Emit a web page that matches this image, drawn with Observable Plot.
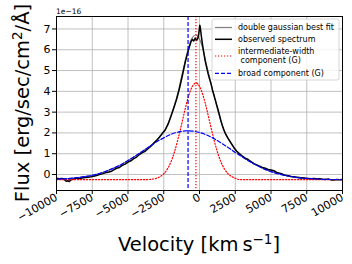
<!DOCTYPE html>
<html><head><meta charset="utf-8">
<script src="https://cdn.jsdelivr.net/npm/d3@7"></script>
<script src="https://cdn.jsdelivr.net/npm/@observablehq/plot@0.6"></script>
<style>
body{margin:0;background:#fff}
#chart{position:relative;width:352px;height:264px}
</style>
</head><body><div id="chart"></div>
<script>
// Observed spectrum (flux in units of 1e-16)
const obsVelocity = [-10000,-9800,-9600,-9400,-9300,-9200,-9100,-9000,-8800,-8600,-8400,-8200,-8000,-7800,-7600,-7400,-7200,-7000,-6800,-6600,-6400,-6200,-6000,-5800,-5600,-5400,-5200,-5000,-4800,-4600,-4400,-4200,-4000,-3800,-3600,-3400,-3200,-3000,-2800,-2600,-2400,-2200,-2000,-1800,-1600,-1400,-1200,-1000,-850,-700,-600,-500,-400,-300,-200,-120,-50,20,60,120,200,300,400,500,600,700,800,900,1000,1100,1200,1300,1400,1500,1600,1700,1800,2000,2200,2400,2600,2800,3000,3200,3400,3600,3800,4000,4200,4400,4600,4800,5000,5200,5400,5600,5800,6000,6200,6400,6600,6800,7000,7200,7400,7600,7800,8000,8200,8400,8600,8800,9000,9200,9400,9600,9800,10000];
const obsFlux = [-0.18,-0.20,-0.19,-0.27,-0.33,-0.30,-0.34,-0.26,-0.22,-0.17,-0.19,-0.17,-0.15,-0.13,-0.11,-0.08,-0.05,0.00,0.03,0.08,0.11,0.14,0.22,0.30,0.34,0.44,0.50,0.60,0.66,0.76,0.84,0.96,1.05,1.12,1.24,1.36,1.50,1.64,1.80,1.98,2.14,2.42,2.80,3.20,3.62,4.15,4.75,5.40,5.80,6.15,6.38,6.50,6.42,6.56,6.45,6.55,6.80,7.18,7.05,6.70,6.30,5.85,5.45,5.15,4.85,4.60,4.38,4.08,3.85,3.60,3.35,3.10,2.85,2.58,2.35,2.15,1.98,1.74,1.52,1.30,1.12,1.00,0.88,0.78,0.72,0.62,0.52,0.46,0.40,0.34,0.30,0.24,0.22,0.18,0.10,0.06,0.02,-0.04,-0.06,-0.10,-0.11,-0.13,-0.15,-0.16,-0.18,-0.19,-0.20,-0.19,-0.22,-0.21,-0.23,-0.24,-0.22,-0.26,-0.27,-0.24,-0.25,-0.24];

// Double gaussian best fit
const fitVelocity = [-10000,-9500,-9000,-8500,-8000,-7500,-7000,-6500,-6000,-5500,-5000,-4500,-4000,-3500,-3250,-3000,-2750,-2500,-2250,-2000,-1750,-1500,-1250,-1000,-750,-500,-250,0,250,500,750,1000,1250,1500,1750,2000,2250,2500,2750,3000,3500,4000,4500,5000,5500,6000,6500,7000,7500,8000,8500,9000,9500,10000];
const fitFlux = [-0.22,-0.21,-0.185,-0.15,-0.10,-0.04,0.05,0.165,0.305,0.47,0.67,0.88,1.11,1.35,1.49,1.64,1.82,2.04,2.36,2.78,3.33,3.95,4.72,5.45,6.15,6.58,6.71,6.51,6.02,5.25,4.55,3.82,3.20,2.55,2.08,1.72,1.45,1.20,1.03,0.88,0.65,0.45,0.28,0.15,0.04,-0.05,-0.11,-0.16,-0.19,-0.21,-0.23,-0.24,-0.24,-0.245];

// Intermediate-width component (G)
const interVelocity = [-10000,-6000,-4000,-3500,-3000,-2750,-2500,-2250,-2000,-1750,-1500,-1250,-1000,-750,-500,-250,0,250,500,750,1000,1250,1500,1750,2000,2250,2500,2750,3000,4000,6000,10000];
const interFlux = [-0.25,-0.25,-0.25,-0.24,-0.18,-0.10,0.03,0.26,0.60,1.09,1.71,2.42,3.16,3.80,4.24,4.40,4.24,3.80,3.16,2.42,1.71,1.09,0.60,0.26,0.03,-0.10,-0.18,-0.24,-0.25,-0.25,-0.25,-0.25];

// Broad component (G)
const broadVelocity = [-10000,-9500,-9000,-8500,-8000,-7500,-7000,-6500,-6000,-5500,-5000,-4500,-4000,-3500,-3000,-2500,-2000,-1500,-1000,-500,0,500,1000,1500,2000,2500,3000,3500,4000,4500,5000,5500,6000,6500,7000,7500,8000,8500,9000,9500,10000];
const broadFlux = [-0.22,-0.21,-0.185,-0.15,-0.10,-0.04,0.05,0.165,0.305,0.47,0.67,0.88,1.11,1.34,1.57,1.76,1.93,2.04,2.10,2.09,2.02,1.90,1.73,1.52,1.30,1.06,0.84,0.63,0.44,0.27,0.14,0.03,-0.05,-0.11,-0.16,-0.19,-0.21,-0.23,-0.24,-0.24,-0.245];

// Component centres (vertical lines)
const broadCenter = [-800];
const interCenter = [-250];

const xTicks = [-10000,-7500,-5000,-2500,0,2500,5000,7500,10000];
const yTicks = [0,1,2,3,4,5,6,7];
const legendLabels = ["double gaussian best fit","observed spectrum","intermediate-width"," component (G)","broad component (G)"];

const zip = (xs, ys) => xs.map((x, i) => ({x, y: ys[i]}));
const obs = zip(obsVelocity, obsFlux);
const fit = zip(fitVelocity, fitFlux);
const inter = zip(interVelocity, interFlux);
const broad = zip(broadVelocity, broadFlux);

const FONT = "DejaVu Sans";
const minus = d => d < 0 ? "\u2212" + Math.abs(d) : String(d);

const chart = Plot.plot({
  width: 352, height: 264,
  marginLeft: 56, marginRight: 10, marginTop: 16, marginBottom: 74,
  style: {fontFamily: FONT, fontSize: "11px", background: "white", color: "black", overflow: "visible"},
  x: {domain: [-10000, 10000], label: null},
  y: {domain: [-0.77, 7.6], label: null},
  marks: [
    Plot.gridX(xTicks, {stroke: "#b0b0b0", strokeOpacity: 1, strokeWidth: 0.8}),
    Plot.gridY(yTicks, {stroke: "#b0b0b0", strokeOpacity: 1, strokeWidth: 0.8}),
    Plot.line(fit, {x: "x", y: "y", stroke: "#808080", strokeWidth: 1.2, curve: "catmull-rom", clip: true}),
    Plot.line(obs, {x: "x", y: "y", stroke: "black", strokeWidth: 1.5, clip: true}),
    Plot.line(inter, {x: "x", y: "y", stroke: "red", strokeWidth: 1.2, strokeDasharray: "1.2,1.8", curve: "monotone-x", clip: true}),
    Plot.line(broad, {x: "x", y: "y", stroke: "blue", strokeWidth: 1.2, strokeDasharray: "4,2", curve: "catmull-rom", clip: true}),
    Plot.ruleX(broadCenter, {stroke: "blue", strokeWidth: 1.2, strokeDasharray: "4,2"}),
    Plot.ruleX(interCenter, {stroke: "red", strokeWidth: 1.2, strokeDasharray: "1.2,1.8"}),
    Plot.frame({stroke: "black", strokeWidth: 1}),
    Plot.axisX(xTicks, {tickRotate: -30, tickFormat: minus, tickSize: 4, tickPadding: 2, fontSize: 11, label: null}),
    Plot.axisY(yTicks, {tickFormat: minus, tickSize: 4, tickPadding: 2, fontSize: 11, label: null})
  ]
});

const svg = d3.select(chart);
// offset text
svg.append("text").attr("x", 56).attr("y", 14).attr("text-anchor", "start").attr("font-size", 7.5)
  .attr("font-family", FONT).attr("fill", "black").text("1e\u221216");

// y label
const yl = svg.append("text").attr("transform", "translate(29,103) rotate(-90)").attr("text-anchor", "middle")
  .attr("font-size", 19.5).attr("font-family", FONT).attr("fill", "black");
yl.append("tspan").text("Flux [erg/sec/cm");
yl.append("tspan").attr("dy", -7).attr("font-size", 13.5).text("2");
yl.append("tspan").attr("dy", 7).text("/\u00C5]");

// x label
const xl = svg.append("text").attr("x", 199).attr("y", 251).attr("text-anchor", "middle")
  .attr("font-size", 19.5).attr("font-family", FONT).attr("fill", "black");
xl.append("tspan").text("Velocity [km\u2009s");
xl.append("tspan").attr("dy", -7).attr("font-size", 13.5).text("\u22121");
xl.append("tspan").attr("dy", 7).text("]");

// legend
const lg = svg.append("g").attr("font-family", FONT).attr("font-size", 8).attr("text-anchor", "start");
lg.append("rect").attr("x", 212).attr("y", 19).attr("width", 127).attr("height", 61).attr("rx", 2)
  .attr("fill", "white").attr("fill-opacity", 0.8).attr("stroke", "#cccccc").attr("stroke-width", 0.8);
const rows = [
  {y: 27.5, stroke: "#808080", dash: null, w: 1.2},
  {y: 39.3, stroke: "black", dash: null, w: 1.5},
  {y: 56, stroke: "red", dash: "1.2,1.8", w: 1.2},
  {y: 73.3, stroke: "blue", dash: "4,2", w: 1.2}
];
rows.forEach(r => {
  const l = lg.append("line").attr("x1", 215).attr("x2", 232).attr("y1", r.y).attr("y2", r.y)
    .attr("stroke", r.stroke).attr("stroke-width", r.w);
  if (r.dash) l.attr("stroke-dasharray", r.dash);
});
const textY = [30.3, 42.1, 53.5, 63.1, 76.1];
legendLabels.forEach((t, i) => lg.append("text").attr("x", 238).attr("y", textY[i])
  .attr("fill", "black").style("white-space", "pre").text(t));

document.getElementById("chart").appendChild(chart);
</script>
</body></html>
